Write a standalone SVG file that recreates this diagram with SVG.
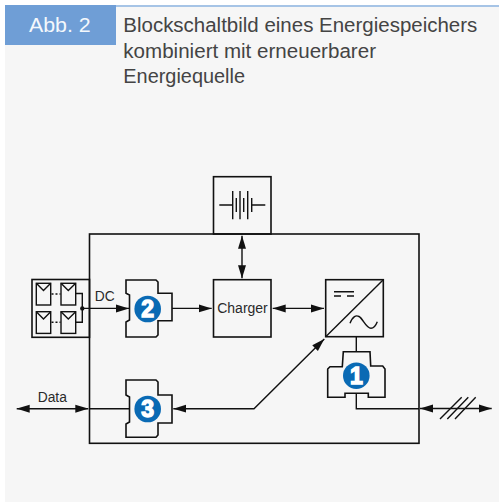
<svg xmlns="http://www.w3.org/2000/svg" width="499" height="502" viewBox="0 0 499 502">
<style>
.l{fill:none;stroke:#111;stroke-width:1.4}
.b{fill:none;stroke:#111;stroke-width:1.6}
.t{font-family:"Liberation Sans",Arial,sans-serif;fill:#2a2a2a}
.h{font-family:"Liberation Sans",Arial,sans-serif;font-size:20px;fill:#444}
.n{fill:#0a6ab4}
.d{font-family:"Liberation Sans",Arial,sans-serif;font-weight:bold;font-size:23px;fill:#fff;text-anchor:middle;stroke:#fff;stroke-width:1.4}
</style>
<defs>
<marker id="a" markerUnits="userSpaceOnUse" markerWidth="13" markerHeight="9" refX="13" refY="4.500" orient="auto-start-reverse" viewBox="0 0 13 9"><path d="M0 .5L13 4.500L0 8.500Z" fill="#111"/></marker>
</defs>
<rect x="5" y="5" width="494" height="497" fill="#f6f6f6"/>
<rect x="5" y="5" width="494" height="2" fill="#a6c4e6"/>
<g id="title">
<rect x="5" y="5" width="111" height="40" fill="#6f9ed6"/>
<text x="29" y="32" font-family="'Liberation Sans',Arial,sans-serif" font-size="20.500" fill="#f4f8fc" textLength="61.700" lengthAdjust="spacingAndGlyphs">Abb. 2</text>
<text class="h" x="123.300" y="32" textLength="354" lengthAdjust="spacingAndGlyphs">Blockschaltbild eines Energiespeichers</text>
<text class="h" x="123.300" y="58" textLength="252.700" lengthAdjust="spacingAndGlyphs">kombiniert mit erneuerbarer</text>
<text class="h" x="123.300" y="83" textLength="121.700" lengthAdjust="spacingAndGlyphs">Energiequelle</text>
</g>
<g id="frame"><rect x="89.500" y="234" width="329.500" height="209.300" class="b"/></g>
<g id="connectors">
<path class="l" d="M242 235.700V278.300" marker-start="url(#a)" marker-end="url(#a)"/>
<path class="l" d="M82.300 308.400H129" marker-end="url(#a)"/>
<path class="l" d="M172 308.400H211.700" marker-end="url(#a)"/>
<path class="l" d="M272.700 308.400H324" marker-start="url(#a)" marker-end="url(#a)"/>
<path class="l" d="M16.700 408.700H88.300" marker-start="url(#a)" marker-end="url(#a)"/>
<path class="l" d="M90 408.700H129.500"/>
<path class="l" d="M324.300 339L254 408.700H173.300" marker-start="url(#a)" marker-end="url(#a)"/>
<path class="l" d="M356.300 336.700V351.700"/>
<path class="l" d="M356.300 393.300V408.700H419"/>
<path class="l" d="M420 408.500H491.700" marker-start="url(#a)" marker-end="url(#a)"/>
<path class="l" d="M440 419L461.700 397.300M447.300 419L468.300 397.300M455 419L475.700 397.300"/>
</g>
<g id="battery">
<rect x="213.500" y="176.700" width="57.500" height="57.300" class="b"/>
<path class="l" d="M219.300 205H232.700M232.700 191V219.300M236.300 198V212M240 191V219.300M243.700 198V212M247.700 191V219.300M251.700 198V212M251.700 205H265.300"/>
</g>
<g id="charger">
<rect x="213.500" y="279.700" width="57.500" height="57.300" class="b"/>
<text class="t" x="242.500" y="313.300" font-size="14" text-anchor="middle">Charger</text>
</g>
<g id="inverter">
<rect x="325.700" y="279.700" width="57.600" height="57" class="b"/>
<path class="l" d="M325.700 336.700L383.300 279.700"/>
<path class="l" d="M334 291.700H354M334 296H341M347 296H354"/>
<path class="l" d="M350 323.300C353 316 356 315 359 316.500C363 318.500 366 328.300 371 328.300C374 328.300 376 325 377.300 321.700"/>
</g>
<g id="pv">
<rect x="32" y="279.500" width="57.500" height="57.800" class="b"/>
<g class="l">
<rect x="36.300" y="283.300" width="14.400" height="21.700"/><path d="M36.300 283.300L43.500 290.500L50.700 283.300"/>
<rect x="61" y="283.300" width="14.700" height="21.700"/><path d="M61 283.300L68.300 290.500L75.700 283.300"/>
<rect x="36.300" y="311.700" width="14.400" height="21.700"/><path d="M36.300 311.700L43.500 318.900L50.700 311.700"/>
<rect x="61" y="311.700" width="14.700" height="21.700"/><path d="M61 311.700L68.300 318.900L75.700 311.700"/>
<path stroke-dasharray="2 2" d="M51.500 294H60.500M51.500 322.300H60.500"/>
<path d="M75.700 293.500H82.300V322.300H75.700"/>
</g>
<circle cx="82.300" cy="308.400" r="2.200" fill="#111"/>
</g>
<g id="device2">
<path class="b" d="M126 280H156L158 282V293.300H172V320.700H158V335L156 337H126V322L129.500 320V295L126 293.300Z"/>
<circle class="n" cx="147.700" cy="309" r="13.300"/><text class="d" x="147.700" y="317">2</text>
</g>
<g id="device3">
<path class="b" d="M126 380H156L158 382V395H172V423H158V435L156 437.300H126V424L129.500 422V397L126 395Z"/>
<circle class="n" cx="147.700" cy="409" r="13.300"/><text class="d" x="147.700" y="417">3</text>
</g>
<g id="device1">
<path class="b" d="M343.300 351.700H370L370.700 366H382.700L385 369V397.300H368.300V393.300H345V397.300H327.700V369L330 366.700H342.300Z"/>
<circle class="n" cx="356.300" cy="375.700" r="13.300"/><text class="d" x="356.300" y="383.700">1</text>
</g>
<text class="t" x="94.700" y="300.700" font-size="13.800">DC</text>
<text class="t" x="37.700" y="401.700" font-size="13.800">Data</text>
</svg>
